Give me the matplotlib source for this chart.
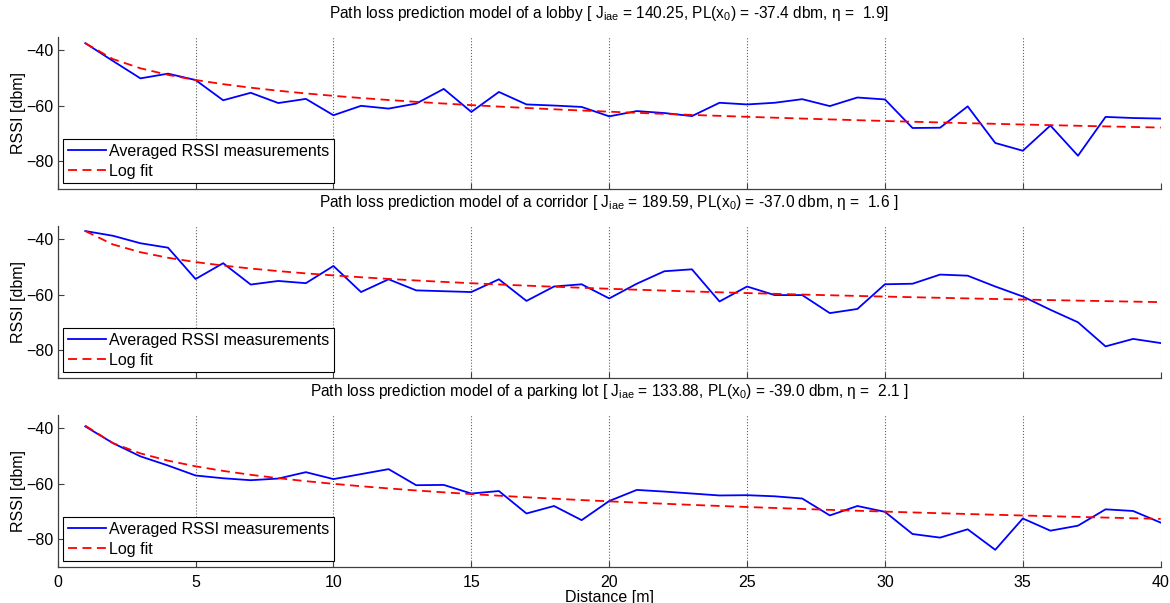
import numpy as np
import matplotlib
matplotlib.use('Agg')
import matplotlib.pyplot as plt

plt.rcParams['font.family'] = ['Liberation Sans', 'DejaVu Sans']
plt.rcParams['mathtext.fontset'] = 'custom'
plt.rcParams['mathtext.rm'] = 'Liberation Sans'
plt.rcParams['mathtext.it'] = 'Liberation Sans:italic'
plt.rcParams['mathtext.default'] = 'regular'

# distance in metres
distance = np.arange(1, 41)

# averaged RSSI per metre [dbm]
rssi_lobby = [-37.4, -43.8, -50.1, -48.4, -50.7, -58.0, -55.3, -59.0, -57.5, -63.4,
              -60.0, -61.0, -59.2, -53.9, -62.2, -55.0, -59.5, -59.9, -60.4, -63.8,
              -61.9, -62.6, -63.7, -58.9, -59.5, -58.9, -57.6, -60.1, -57.0, -57.7,
              -68.0, -67.9, -60.2, -73.4, -76.2, -67.1, -78.0, -64.0, -64.4, -64.6]
rssi_corridor = [-37.0, -38.7, -41.4, -43.0, -54.3, -48.6, -56.3, -55.0, -55.8, -49.6,
                 -59.0, -54.4, -58.4, -58.7, -59.0, -54.4, -62.2, -57.0, -56.2, -61.3,
                 -56.0, -51.5, -50.8, -62.4, -57.0, -60.1, -60.1, -66.6, -65.1, -56.2,
                 -56.0, -52.7, -53.1, -57.0, -60.6, -65.4, -69.9, -78.6, -75.9, -77.4]
rssi_parking = [-39.3, -45.3, -50.1, -53.4, -57.0, -58.0, -58.7, -58.1, -55.8, -58.3,
                -56.5, -54.7, -60.5, -60.4, -63.5, -62.6, -70.7, -68.0, -73.1, -66.2,
                -62.2, -62.8, -63.5, -64.2, -64.1, -64.5, -65.3, -71.4, -68.0, -70.1,
                -78.1, -79.4, -76.4, -83.8, -72.5, -76.9, -75.1, -69.2, -69.8, -74.0]

# fitted path loss parameters
places = ['lobby', 'corridor', 'parking lot']
j_iae = ['140.25', '189.59', '133.88']
pl0 = [-37.4, -37.0, -39.0]
eta = [1.9, 1.6, 2.1]
title_end = [']', ' ]', ' ]']

series = [rssi_lobby, rssi_corridor, rssi_parking]

fig = plt.figure(figsize=(11.7, 6.03), dpi=100)
W, H = 1170, 603
bottoms = [189, 378, 567]

for i, (rssi, place) in enumerate(zip(series, places)):
    ax = fig.add_axes([57.7 / W, 1 - bottoms[i] / H, 1103 / W, 152.5 / H])
    fit = pl0[i] - 10 * eta[i] * np.log10(distance)

    ax.plot(distance, rssi, color='#0000ff', lw=1.3, label='Averaged RSSI measurements')
    ax.plot(distance, fit, color='#ff0000', lw=1.3, ls=(0, (5, 3)), label='Log fit')

    ax.set_xlim(0, 40)
    ax.set_ylim(-90, -35)
    ax.set_xticks(range(0, 41, 5))
    ax.set_yticks([-40, -60, -80])
    ax.xaxis.grid(True, linestyle=':', color='#606060', lw=0.8)
    ax.tick_params(direction='in', length=4, width=0.8, color='#404040',
                   labelsize=11.5, top=False, right=False)
    ax.tick_params(axis='y', pad=3)
    ax.tick_params(axis='x', pad=6)
    for side in ('top', 'right'):
        ax.spines[side].set_visible(False)
    for side in ('left', 'bottom'):
        ax.spines[side].set_color('#404040')
        ax.spines[side].set_linewidth(0.9)
    if i < 2:
        ax.tick_params(labelbottom=False)

    ax.set_ylabel('RSSI [dbm]', fontsize=11.5, labelpad=0.5)
    ax.set_title(f'Path loss prediction model of a {place} [ J$_{{iae}}$ = {j_iae[i]}, '
                 f'PL(x$_0$) = {pl0[i]:.1f} dbm, $\\eta$ =  {eta[i]:.1f}{title_end[i]}',
                 fontsize=11.2, pad=13)

    leg = ax.legend(loc='lower left', fontsize=11.5, fancybox=False, framealpha=1,
                    edgecolor='black', borderaxespad=0.35, handlelength=2.4,
                    handletextpad=0.15, labelspacing=0.3, borderpad=0.3)
    leg.get_frame().set_linewidth(0.8)

    if i == 2:
        ax.set_xlabel('Distance [m]', fontsize=11.5, labelpad=0)

fig.savefig('out.png', dpi=100)
